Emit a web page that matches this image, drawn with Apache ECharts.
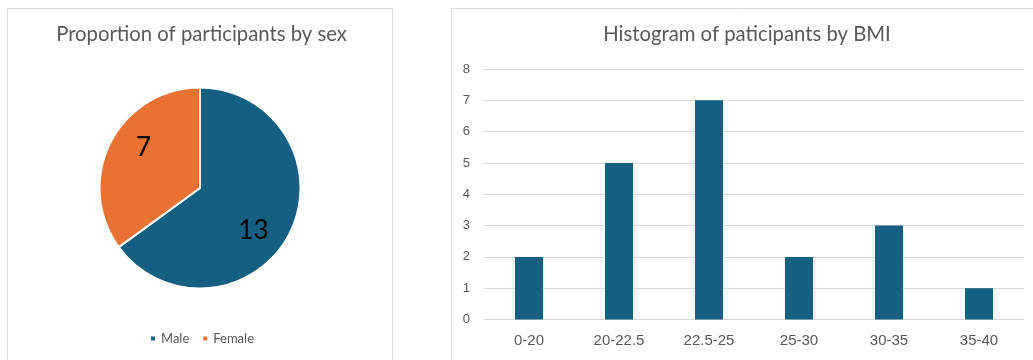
<!DOCTYPE html>
<html>
<head>
<meta charset="utf-8">
<script src="https://cdn.jsdelivr.net/npm/echarts@6/dist/echarts.min.js"></script>
<style>
html,body{margin:0;padding:0;background:#fff;}
#chart{width:1033px;height:360px;}
</style>
</head>
<body>
<div id="chart"></div>
<script>
// ---- data ----
const sexCategories = ['Male', 'Female'];
const sexCounts = [13, 7];
const bmiCategories = ['0-20', '20-22.5', '22.5-25', '25-30', '30-35', '35-40'];
const bmiCounts = [2, 5, 7, 2, 3, 1];
const yTicks = [0, 1, 2, 3, 4, 5, 6, 7, 8];

const blue = '#156082';
const orange = '#E97132';
const textGrey = '#595959';
const lineGrey = '#d9d9d9';

const labelOffsets = [[6, 18], [-9, -16]];
const pieData = sexCategories.map((n, i) => ({
  name: n,
  value: sexCounts[i],
  itemStyle: { color: i === 0 ? blue : orange },
  label: { offset: labelOffsets[i] }
}));

const chart = echarts.init(document.getElementById('chart'), null, { renderer: 'canvas' });
chart.setOption({
  animation: false,
  backgroundColor: '#fff',
  graphic: [
    { type: 'rect', shape: { x: 7.5, y: 8.5, width: 385, height: 400 },
      style: { fill: 'none', stroke: lineGrey, lineWidth: 1 }, silent: true, z: -1 },
    { type: 'rect', shape: { x: 451.5, y: 8.5, width: 640, height: 400 },
      style: { fill: 'none', stroke: lineGrey, lineWidth: 1 }, silent: true, z: -1 }
  ],
  title: [
    { text: 'Proportion of participants by sex', left: 196.5, top: 19, textAlign: 'center',
      textStyle: { fontFamily: 'Lato', fontSize: 20.3, fontWeight: 'normal', color: textGrey } },
    { text: 'Histogram of paticipants by BMI', left: 742, top: 19, textAlign: 'center',
      textStyle: { fontFamily: 'Lato', fontSize: 20.3, fontWeight: 'normal', color: textGrey } }
  ],
  legend: {
    data: sexCategories,
    left: 144, top: 327,
    icon: 'rect', itemWidth: 6, itemHeight: 6, itemGap: 12,
    textStyle: { fontFamily: 'Lato', fontSize: 13, color: textGrey }
  },
  grid: { left: 484, right: 9, top: 69, bottom: 40.5, containLabel: false },
  xAxis: {
    type: 'category',
    data: bmiCategories,
    axisTick: { show: false },
    axisLine: { lineStyle: { color: lineGrey, width: 1 } },
    axisLabel: { color: textGrey, fontFamily: 'Liberation Sans', fontSize: 15, margin: 14 }
  },
  yAxis: {
    type: 'value',
    min: yTicks[0], max: yTicks[yTicks.length - 1], interval: 1,
    axisLine: { show: false }, axisTick: { show: false },
    splitLine: { lineStyle: { color: lineGrey, width: 1 } },
    axisLabel: { color: textGrey, fontFamily: 'Liberation Sans', fontSize: 13, margin: 14 }
  },
  series: [
    {
      type: 'pie',
      center: [200, 188],
      radius: [0, 100.5],
      startAngle: 90,
      clockwise: true,
      data: pieData,
      itemStyle: { borderColor: '#fff', borderWidth: 2 },
      label: { show: true, position: 'inside', formatter: '{c}',
        fontFamily: 'Lato', fontSize: 26, color: '#000' },
      labelLine: { show: false },
      emphasis: { disabled: true }
    },
    {
      type: 'bar',
      data: bmiCounts,
      barWidth: 28,
      itemStyle: { color: blue },
      emphasis: { disabled: true }
    }
  ]
});
</script>
</body>
</html>
